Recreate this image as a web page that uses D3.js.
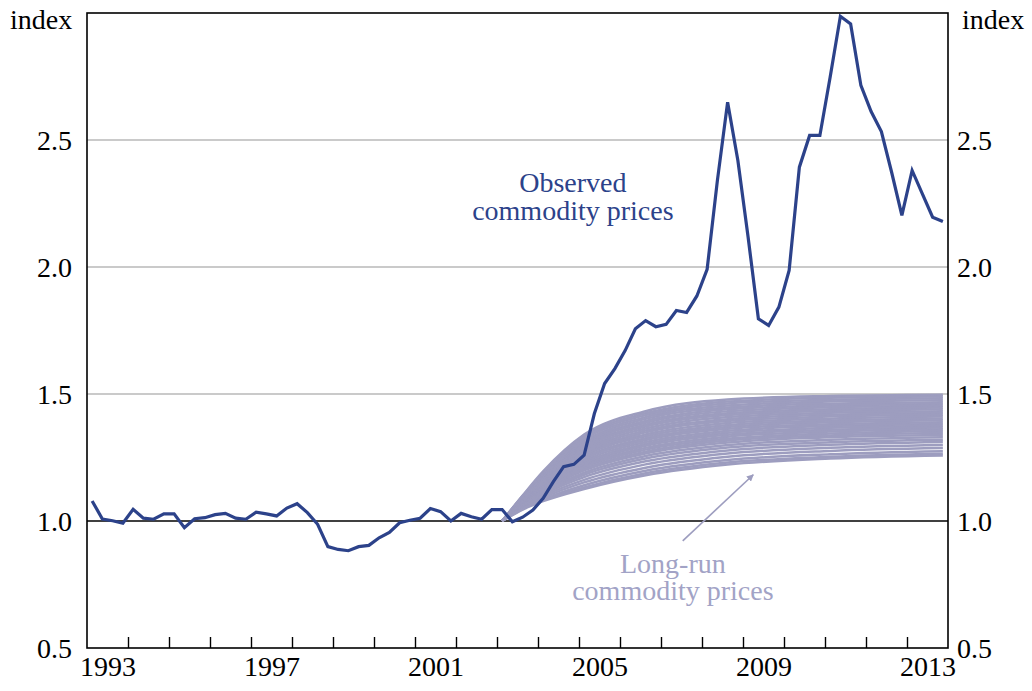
<!DOCTYPE html>
<html>
<head>
<meta charset="utf-8">
<script src="https://cdn.jsdelivr.net/npm/d3@7"></script>
<style>
	body { margin: 0; background: #fff; }
	text { font-family: "Liberation Serif", "Times New Roman", serif; }
</style>
</head>
<body>
<div id="chart"></div>
<script>
var width = 1032,
	height = 691;

var plotLeft = 87, plotRight = 948, plotTop = 13, plotBottom = 648;

// quarterly index, 1993Q1 .. 2013Q4
var obsStart = 1993.125;
var observed = [
	1.079, 1.008, 1.001, 0.991, 1.046, 1.011, 1.007, 1.028, 1.028, 0.974,
	1.009, 1.013, 1.025, 1.030, 1.011, 1.007, 1.035, 1.028, 1.020, 1.051,
	1.068, 1.033, 0.987, 0.899, 0.888, 0.883, 0.899, 0.904, 0.934, 0.955,
	0.993, 1.003, 1.011, 1.049, 1.037, 1.000, 1.030, 1.017, 1.007, 1.045,
	1.045, 0.997, 1.015, 1.043, 1.089, 1.155, 1.214, 1.223, 1.259, 1.423,
	1.541, 1.600, 1.671, 1.757, 1.789, 1.765, 1.774, 1.829, 1.821, 1.886,
	1.991, 2.340, 2.649, 2.419, 2.117, 1.796, 1.770, 1.842, 1.986, 2.393,
	2.518, 2.518, 2.747, 2.987, 2.957, 2.715, 2.612, 2.533, 2.373, 2.203,
	2.380, 2.288, 2.196, 2.179
];

// long-run paths, read at these dates
var fanYears = [2003.125, 2003.625, 2004.125, 2005.125, 2006.625, 2008.625, 2011.125, 2013.875];
var fanPaths = [
	[1, 1.100, 1.195, 1.340, 1.432, 1.478, 1.492, 1.497],
	[1, 1.098, 1.191, 1.334, 1.424, 1.470, 1.485, 1.490],
	[1, 1.097, 1.188, 1.327, 1.417, 1.463, 1.477, 1.483],
	[1, 1.095, 1.184, 1.321, 1.409, 1.455, 1.470, 1.475],
	[1, 1.093, 1.181, 1.314, 1.402, 1.447, 1.462, 1.468],
	[1, 1.092, 1.177, 1.308, 1.394, 1.440, 1.455, 1.461],
	[1, 1.090, 1.174, 1.301, 1.387, 1.432, 1.448, 1.454],
	[1, 1.088, 1.170, 1.295, 1.379, 1.424, 1.440, 1.447],
	[1, 1.087, 1.167, 1.289, 1.372, 1.417, 1.433, 1.440],
	[1, 1.085, 1.163, 1.282, 1.364, 1.409, 1.426, 1.432],
	[1, 1.084, 1.160, 1.276, 1.356, 1.401, 1.418, 1.425],
	[1, 1.082, 1.156, 1.269, 1.349, 1.394, 1.411, 1.418],
	[1, 1.080, 1.153, 1.263, 1.341, 1.386, 1.403, 1.411],
	[1, 1.079, 1.149, 1.257, 1.334, 1.378, 1.396, 1.404],
	[1, 1.077, 1.146, 1.250, 1.326, 1.370, 1.389, 1.397],
	[1, 1.075, 1.142, 1.244, 1.319, 1.363, 1.381, 1.389],
	[1, 1.074, 1.139, 1.237, 1.311, 1.355, 1.374, 1.382],
	[1, 1.072, 1.135, 1.231, 1.303, 1.347, 1.367, 1.375],
	[1, 1.070, 1.132, 1.224, 1.296, 1.340, 1.359, 1.368],
	[1, 1.069, 1.128, 1.218, 1.288, 1.332, 1.352, 1.361],
	[1, 1.067, 1.125, 1.212, 1.281, 1.324, 1.344, 1.354],
	[1, 1.065, 1.121, 1.205, 1.273, 1.317, 1.337, 1.346],
	[1, 1.064, 1.118, 1.199, 1.266, 1.309, 1.330, 1.339],
	[1, 1.062, 1.113, 1.190, 1.256, 1.299, 1.320, 1.330],
	[1, 1.059, 1.108, 1.182, 1.246, 1.289, 1.310, 1.320],
	[1, 1.057, 1.104, 1.173, 1.235, 1.278, 1.300, 1.311],
	[1, 1.054, 1.098, 1.162, 1.223, 1.266, 1.288, 1.299],
	[1, 1.052, 1.092, 1.152, 1.210, 1.253, 1.276, 1.287],
	[1, 1.049, 1.086, 1.141, 1.198, 1.240, 1.263, 1.275],
	[1, 1.047, 1.082, 1.132, 1.188, 1.230, 1.253, 1.265],
	[1, 1.045, 1.078, 1.126, 1.180, 1.222, 1.246, 1.258]
];

var yTicks = [0.5, 1.0, 1.5, 2.0, 2.5];
var gridValues = [1.5, 2.0, 2.5];
var yearTicks = d3.range(1994, 2014);
var yearLabels = [1993, 1997, 2001, 2005, 2009, 2013];

var navy = "#2c428a",
	lilac = "#9d9dbf";

var svg = d3.select("#chart").append("svg")
	.attr("width", width)
	.attr("height", height);

var x = d3.scaleLinear().domain([1993, 2014]).range([plotLeft, plotRight]);
var y = d3.scaleLinear().domain([0.5, 3.0]).range([plotBottom, plotTop]);

// gridlines
svg.append("g").selectAll("line")
	.data(gridValues)
	.enter().append("line")
	.attr("x1", plotLeft).attr("x2", plotRight)
	.attr("y1", d => y(d)).attr("y2", d => y(d))
	.attr("stroke", "#b8b8b8")
	.attr("stroke-width", 1.5);

svg.append("line")
	.attr("x1", plotLeft).attr("x2", plotRight)
	.attr("y1", y(1)).attr("y2", y(1))
	.attr("stroke", "#000")
	.attr("stroke-width", 1.6);

// long-run fan
var fanLine = d3.line()
	.x((d, i) => x(fanYears[i]))
	.y(d => y(d))
	.curve(d3.curveMonotoneX);

svg.append("g").selectAll("path")
	.data(fanPaths)
	.enter().append("path")
	.attr("d", fanLine)
	.attr("fill", "none")
	.attr("stroke", lilac)
	.attr("stroke-width", 2.5);

// observed
var obsLine = d3.line()
	.x((d, i) => x(obsStart + i / 4))
	.y(d => y(d));

svg.append("path")
	.datum(observed)
	.attr("d", obsLine)
	.attr("fill", "none")
	.attr("stroke", navy)
	.attr("stroke-width", 3.2)
	.attr("stroke-linejoin", "miter");

// frame
svg.append("rect")
	.attr("x", plotLeft).attr("y", plotTop)
	.attr("width", plotRight - plotLeft).attr("height", plotBottom - plotTop)
	.attr("fill", "none")
	.attr("stroke", "#000")
	.attr("stroke-width", 1.6);

// x axis: year ticks inside, labels centred on years
var xTickAxis = d3.axisBottom(x)
	.tickValues(yearTicks)
	.tickSize(-11)
	.tickFormat("");

var gX = svg.append("g")
	.attr("transform", "translate(0," + plotBottom + ")")
	.call(xTickAxis);
gX.select(".domain").remove();
gX.selectAll(".tick line").attr("stroke", "#000").attr("stroke-width", 1.4);

var xLabelAxis = d3.axisBottom(x)
	.tickValues(yearLabels.map(d => d + 0.5))
	.tickSize(0)
	.tickPadding(28)
	.tickFormat(d => Math.floor(d));

var gXL = svg.append("g")
	.attr("transform", "translate(0," + plotBottom + ")")
	.call(xLabelAxis);
gXL.select(".domain").remove();
gXL.selectAll("text")
	.attr("dy", "0")
	.style("font-size", "28px")
	.style("font-family", "Liberation Serif, serif")
	.attr("fill", "#000");

// y axes
var yLeft = d3.axisLeft(y)
	.tickValues(yTicks)
	.tickSize(0)
	.tickPadding(15)
	.tickFormat(d3.format(".1f"));

var yRight = d3.axisRight(y)
	.tickValues(yTicks)
	.tickSize(0)
	.tickPadding(9)
	.tickFormat(d3.format(".1f"));

var gYL = svg.append("g")
	.attr("transform", "translate(" + plotLeft + ",0)")
	.call(yLeft);
var gYR = svg.append("g")
	.attr("transform", "translate(" + plotRight + ",0)")
	.call(yRight);

[gYL, gYR].forEach(function (g) {
	g.select(".domain").remove();
	g.selectAll("text")
		.attr("dy", "0.34em")
		.style("font-size", "28px")
		.style("font-family", "Liberation Serif, serif")
		.attr("fill", "#000");
});

svg.append("text").attr("x", 10).attr("y", 29)
	.style("font-size", "28px").text("index");
svg.append("text").attr("x", 962).attr("y", 29)
	.style("font-size", "28px").text("index");

// annotations
var obsLabel = svg.append("text")
	.attr("text-anchor", "middle")
	.attr("fill", navy)
	.style("font-size", "28px");
obsLabel.append("tspan").attr("x", x(2004.85)).attr("y", y(2.295)).text("Observed");
obsLabel.append("tspan").attr("x", x(2004.85)).attr("y", y(2.185)).text("commodity prices");

var lrLabel = svg.append("text")
	.attr("text-anchor", "middle")
	.attr("fill", "#a2a3c6")
	.style("font-size", "28px");
lrLabel.append("tspan").attr("x", x(2007.29)).attr("y", y(0.795)).text("Long-run");
lrLabel.append("tspan").attr("x", x(2007.29)).attr("y", y(0.689)).text("commodity prices");

svg.append("defs").append("marker")
	.attr("id", "arrow")
	.attr("viewBox", "0 0 10 10")
	.attr("refX", 9).attr("refY", 5)
	.attr("markerWidth", 7).attr("markerHeight", 7)
	.attr("markerUnits", "userSpaceOnUse")
	.attr("orient", "auto")
	.append("path")
	.attr("d", "M0,0 L10,5 L0,10 z")
	.attr("fill", lilac);

svg.append("line")
	.attr("x1", x(2007.53)).attr("y1", y(0.922))
	.attr("x2", x(2009.25)).attr("y2", y(1.182))
	.attr("stroke", lilac)
	.attr("stroke-width", 1.6)
	.attr("marker-end", "url(#arrow)");
</script>
</body>
</html>
